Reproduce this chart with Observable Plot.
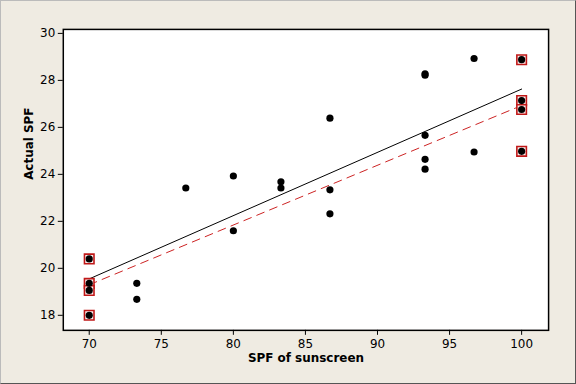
<!DOCTYPE html>
<html>
<head>
<meta charset="utf-8">
<script src="https://cdn.jsdelivr.net/npm/d3@7"></script>
<script src="https://cdn.jsdelivr.net/npm/@observablehq/plot@0.6"></script>
<style>
  html, body { margin: 0; padding: 0; background: #EFEBE2; }
  #chart { width: 576px; height: 384px; box-sizing: border-box; border-right: 1px solid #555; border-bottom: 1px solid #555; border-left: 1px solid #bbb; border-top: 1px solid #bbb; overflow: hidden; }
  svg { display: block; }
</style>
</head>
<body>
<div id="chart"></div>
<script>
// Observed data: SPF of sunscreen vs actual SPF
const spf    = [70, 70, 70, 70, 73.3, 73.3, 76.7, 80, 80, 83.3, 83.3, 86.7, 86.7, 86.7, 93.3, 93.3, 93.3, 93.3, 93.3, 96.7, 96.7, 100, 100, 100, 100];
const actual = [20.4, 19.36, 19.06, 18.0, 19.36, 18.68, 23.42, 23.93, 21.6, 23.68, 23.42, 26.39, 23.34, 22.32, 28.22, 28.28, 25.66, 24.64, 24.22, 28.93, 24.95, 28.88, 27.14, 26.76, 24.98];
// Highlighted (boxed) observations
const boxedSpf    = [70, 70, 70, 70, 100, 100, 100, 100];
const boxedActual = [20.4, 19.36, 19.06, 18.0, 28.88, 27.14, 26.76, 24.98];
// Fitted lines (endpoints)
const fitSpf      = [70, 100];
const fitAll      = [19.55, 27.63];
const fitBoxed    = [19.3, 26.93];
// Ticks
const xTicks = [70, 75, 80, 85, 90, 95, 100];
const yTicks = [18, 20, 22, 24, 26, 28, 30];

const pts = spf.map((x, i) => ({x, y: actual[i]}));
const boxed = boxedSpf.map((x, i) => ({x, y: boxedActual[i]}));
const lineAll = fitSpf.map((x, i) => ({x, y: fitAll[i]}));
const lineBoxed = fitSpf.map((x, i) => ({x, y: fitBoxed[i]}));

const chart = Plot.plot({
  width: 576,
  height: 384,
  marginLeft: 62,
  marginRight: 27,
  marginTop: 28,
  marginBottom: 54,
  style: { background: "transparent", fontFamily: "DejaVu Sans, sans-serif", fontSize: "11px", color: "#000" },
  x: { domain: [68.2, 101.87], ticks: xTicks, tickSize: 5, tickPadding: 4, label: null },
  y: { domain: [17.36, 30.17], ticks: yTicks, tickSize: 5, tickPadding: 3, label: null },
  marks: [
    Plot.rect([0], { x1: 68.2, x2: 101.87, y1: 17.36, y2: 30.17, fill: "white" }),
    Plot.line(lineAll, { x: "x", y: "y", stroke: "black", strokeWidth: 1 }),
    Plot.line(lineBoxed, { x: "x", y: "y", stroke: "#CC2222", strokeWidth: 1, strokeDasharray: "8,6" }),
    Plot.dot(boxed, { x: "x", y: "y", symbol: "square", r: 5.4, stroke: "#C01818", strokeWidth: 1.6, fill: "#FBEFEF" }),
    Plot.dot(pts, { x: "x", y: "y", r: 3.6, fill: "black", stroke: "none" }),
    Plot.frame({ stroke: "black", strokeWidth: 1.5 }),
    Plot.axisX({ ticks: xTicks, tickSize: 5, tickPadding: 4, label: null, fontSize: 12 }),
    Plot.axisY({ ticks: yTicks, tickSize: 5, tickPadding: 3, label: null, fontSize: 12 }),
    Plot.text(["SPF of sunscreen"], { frameAnchor: "bottom", dy: 32, fontWeight: "bold", fontSize: 12 }),
    Plot.text(["Actual SPF"], { frameAnchor: "left", dx: -34, rotate: -90, fontWeight: "bold", fontSize: 12 })
  ]
});
document.getElementById("chart").appendChild(chart);
</script>
</body>
</html>
